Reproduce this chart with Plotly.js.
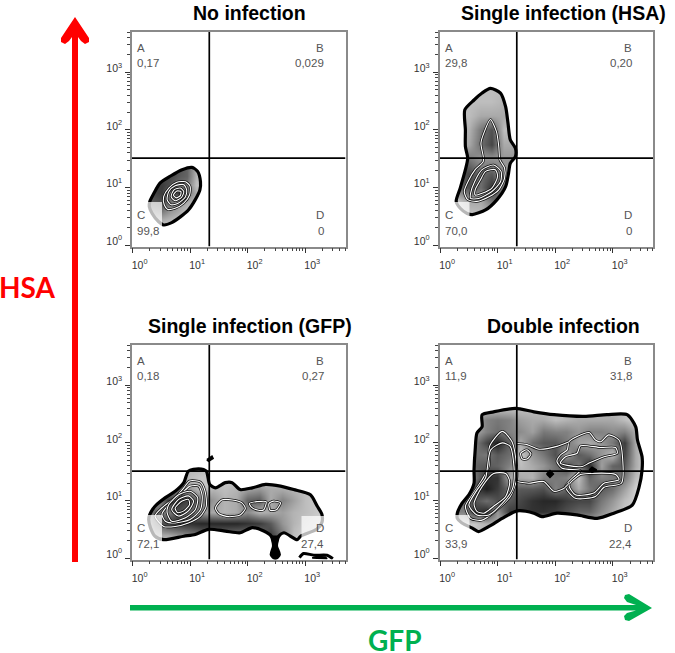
<!DOCTYPE html>
<html>
<head>
<meta charset="utf-8">
<script src="https://cdn.plot.ly/plotly-3.0.1.min.js"></script>
<style>
  body { margin: 0; background: #fff; }
</style>
</head>
<body>
<div id="myPlot" style="width:675px;height:653px"></div>
<script>
// Gates, ticks
var gateGfp = 1.333;   // log10 of the GFP gate
var gateHsa = 1.509;   // log10 of the HSA gate
var majorTicks = [1, 10, 100, 1000];
var majorLabels = ["10<sup>0</sup>", "10<sup>1</sup>", "10<sup>2</sup>", "10<sup>3</sup>"];
var minorTicks = [2,3,4,5,6,7,8,9,20,30,40,50,60,70,80,90,200,300,400,500,600,700,800,900,2000,3000,4000,5000];

var titles = ["No infection", "Single infection (HSA)", "Single infection (GFP)", "Double infection"];
var valuesA = ["0,17", "29,8", "0,18", "11,9"];
var valuesB = ["0,029", "0,20", "0,27", "31,8"];
var valuesC = ["99,8", "70,0", "72,1", "33,9"];
var valuesD = ["0", "0", "27,4", "22,4"];

// All density coordinates below are log10(GFP) and log10(HSA). Shade is 0 (black) to 255 (white).

// No infection
var p1GridX = [.2,.35,.5,.65,.8,.95,1.1,1.25];
var p1GridY = [.3,.45,.6,.75,.9,1.05,1.2,1.35];
var p1Shade = [
  [200,200,200,200,200,200,200,200],
  [180,170,170,180,190,200,210,210],
  [120,130,120,150,170,190,210,210],
  [90,90,80,110,150,170,190,210],
  [70,70,60,120,50,110,170,210],
  [60,60,60,80,110,120,190,210],
  [60,60,70,70,90,100,180,200],
  [70,70,70,70,80,100,170,200]
];
var p1OutX = [.30,.37,.48,.66,.86,1.03,1.13,1.18,1.17,1.09,.97,.83,.68,.54,.45,.34,.29];
var p1OutY = [.76,.90,1.08,1.20,1.31,1.35,1.28,1.10,.96,.79,.61,.49,.39,.35,.41,.55,.67];
var p1RingsX = [
  [.55,.54,.63,.77,.92,1.0,.99,.89,.74,.61],
  [.60,.63,.74,.89,.94,.92,.80,.67],
  [.67,.72,.83,.89,.85,.74],
  [.71,.77,.84,.83,.76]
];
var p1RingsY = [
  [.70,.84,.99,1.09,1.10,1.02,.87,.73,.64,.62],
  [.79,.93,1.03,1.05,.96,.84,.73,.70],
  [.84,.96,.99,.93,.83,.77],
  [.87,.94,.93,.86,.82]
];

// Single infection (HSA)
var p2GridX = [.3,.5,.7,.9,1.1,1.3];
var p2GridY = [.5,.75,1.0,1.25,1.5,1.75,2.0,2.25,2.5,2.75];
var p2Shade = [
  [210,200,190,190,190,190],
  [200,170,170,120,110,120],
  [110,80,110,50,130,140],
  [90,70,110,90,150,150],
  [100,120,150,150,150,150],
  [170,170,110,70,170,170],
  [170,180,120,80,190,190],
  [190,190,170,170,170,170],
  [190,190,190,190,180,180],
  [190,190,190,190,190,190]
];
var p2OutX = [.875,1.05,1.14,1.18,1.22,1.31,1.31,1.22,1.19,1.14,.99,.79,.56,.47,.35,.28,.35,.44,.48,.44,.44,.43,.59,.73];
var p2OutY = [2.72,2.64,2.40,2.12,1.83,1.68,1.54,1.42,1.25,1.02,.79,.61,.53,.55,.64,.76,.99,1.31,1.51,1.71,2.0,2.35,2.52,2.64];
var p2RingsX = [
  [.875,.98,1.02,1.04,1.12,1.12,1.02,.85,.64,.48,.42,.50,.61,.75,.75,.71,.77],
  [.53,.60,.73,.93,1.06,1.05,.90,.67,.53],
  [.61,.70,.79,.96,1.0,.90,.73,.61]
];
var p2RingsY = [
  [2.18,1.97,1.71,1.48,1.34,1.16,.96,.84,.76,.79,.93,1.13,1.31,1.45,1.54,1.77,1.97],
  [.90,1.10,1.31,1.39,1.28,1.10,.93,.81,.81],
  [.96,1.13,1.28,1.31,1.19,.99,.90,.87]
];

// Single infection (GFP)
var p3GridX = [.2,.4,.6,.8,1.0,1.2,1.4,1.6,1.8,2.0,2.2,2.4,2.6,2.8,3.0,3.2,3.4];
var p3GridY = [.2,.4,.6,.8,1.0,1.2,1.4,1.6];
var p3Shade = [
  [190,190,190,190,190,190,190,190,190,190,190,60,190,190,190,190,190],
  [200,170,170,150,130,110,110,110,120,120,120,60,120,190,210,210,210],
  [190,120,60,50,50,40,40,40,40,50,60,90,150,180,200,210,210],
  [160,90,130,80,110,150,170,180,170,140,180,170,160,180,190,200,210],
  [200,170,60,50,70,120,150,180,170,100,90,170,130,160,190,200,210],
  [200,200,170,120,150,200,180,190,180,160,150,170,170,180,190,200,210],
  [200,200,200,170,190,200,200,200,200,200,200,200,200,200,200,200,200],
  [200,200,200,180,180,180,200,200,200,200,200,200,200,200,200,200,200]
];
var p3OutX = [.30,.39,.57,.74,.89,.97,1.15,1.28,1.34,1.44,1.61,1.73,1.87,2.08,2.31,2.57,2.80,3.09,3.21,3.29,3.29,3.20,2.92,2.86,2.63,2.54,2.50,2.55,2.48,2.41,2.45,2.41,2.28,2.08,1.87,1.61,1.32,1.09,.89,.54,.39,.31,.28];
var p3OutY = [.76,.90,1.05,1.16,1.31,1.51,1.55,1.51,1.28,1.22,1.31,1.31,1.19,1.22,1.28,1.25,1.19,1.10,.90,.76,.62,.50,.38,.32,.44,.38,.21,.06,-.01,.06,.21,.38,.47,.53,.44,.47,.50,.41,.38,.32,.38,.53,.67];
var p3RingsX = [
  [.39,.54,.74,.89,.99,1.18,1.26,1.28,1.18,.97,.74,.54],
  [.51,.63,.83,1.0,1.15,1.21,1.18,1.0,.74,.57],
  [.60,.63,.80,1.0,1.13,1.09,.92,.68],
  [.68,.80,.97,1.06,.97,.80],
  [.74,.86,.97,.99,.89,.78],
  [1.44,1.55,1.73,1.90,1.96,1.87,1.67,1.50],
  [2.03,2.16,2.32,2.28,2.19,2.07],
  [2.37,2.45,2.57,2.50,2.39]
];
var p3RingsY = [
  [.73,.90,1.05,1.22,1.34,1.32,1.16,.90,.73,.61,.55,.55],
  [.76,.93,1.10,1.25,1.25,1.08,.84,.67,.61,.64],
  [.79,.93,1.10,1.16,1.05,.84,.70,.64],
  [.84,1.02,1.08,.99,.82,.73],
  [.87,.99,1.02,.93,.82,.79],
  [.87,1.01,1.01,.96,.86,.75,.72,.77],
  [.95,.98,.98,.84,.83,.88],
  [.95,.99,.96,.84,.83]
];
var p3SpotsX = [
  [2.41,2.45,2.41,2.48,2.55,2.50,2.54],
  [1.29,1.38,1.40,1.32],
  [3.12,3.20,3.35,3.38]
];
var p3SpotsY = [
  [.38,.21,.06,-.01,.06,.21,.38],
  [1.71,1.77,1.73,1.68],
  [0,.03,.02,-.01]
];
var p3LobeX = [2.90,2.97,3.15,3.38,3.48];
var p3LobeY = [.01,.08,.05,.05,-.01];

// Double infection
var p4GridX = [.4,.6,.8,1.0,1.2,1.4,1.6,1.8,2.0,2.2,2.4,2.6,2.8,3.0,3.2,3.4,3.6];
var p4GridY = [.6,.8,1.0,1.2,1.4,1.6,1.8,2.0,2.2,2.4,2.6];
var p4Shade = [
  [200,200,180,170,170,170,170,170,170,170,170,170,180,190,200,210,220],
  [130,60,40,150,60,60,50,50,60,80,100,100,140,170,200,210,220],
  [110,80,110,80,90,70,50,40,40,60,70,70,120,150,190,210,220],
  [100,70,30,60,110,90,90,80,130,100,170,120,90,110,160,210,220],
  [150,120,50,50,170,170,180,130,120,130,190,100,130,120,120,190,220],
  [190,100,90,100,130,190,170,150,110,70,120,40,160,100,90,170,220],
  [200,110,120,90,110,200,150,120,80,160,90,110,150,190,70,170,220],
  [200,130,70,30,100,170,110,90,90,120,160,170,150,120,60,170,220],
  [190,170,130,110,130,140,160,120,130,130,150,130,130,140,130,170,220],
  [190,170,130,120,130,160,170,170,190,180,170,170,170,170,190,210,220],
  [200,190,190,190,190,190,190,190,190,190,190,190,190,190,190,210,220]
];
var p4OutX = [.30,.38,.50,.59,.59,.61,.64,.73,.73,.93,1.31,1.63,1.98,2.50,2.90,3.25,3.40,3.43,3.51,3.51,3.46,3.34,3.02,2.73,2.38,2.03,1.77,1.63,1.34,1.08,.85,.67,.56,.38,.30];
var p4OutY = [.78,.95,1.10,1.30,1.53,1.88,2.17,2.28,2.49,2.54,2.60,2.54,2.49,2.46,2.49,2.49,2.28,2.05,1.76,1.53,1.24,.92,.78,.69,.75,.78,.72,.78,.82,.69,.55,.46,.52,.61,.69];
var p4RingsX = [
  [.44,.56,.73,.85,.86,1.08,1.25,1.33,1.33,1.22,.99,.73,.53],
  [.50,.64,.79,.88,1.08,1.22,1.29,1.25,1.08,.85,.64],
  [.59,.73,.93,1.14,1.21,1.14,.93,.76,.64],
  [1.40,1.51,1.58,1.51,1.43],
  [2.03,2.09,2.21,2.24,2.38,2.59,2.70,2.79,2.93,3.11,3.17,3.15,2.85,2.70,2.35,2.18,2.38,2.44,2.12],
  [2.09,2.18,2.38,2.44,2.79,3.05,3.08,2.85,2.59,2.47,2.21],
  [2.24,2.44,2.59,3.05,3.11,2.85,2.67,2.35]
];
var p4RingsY = [
  [.90,1.10,1.36,1.59,1.94,2.20,2.02,1.59,1.36,1.07,.84,.66,.69],
  [.92,1.18,1.39,1.88,2.0,1.94,1.47,1.18,.95,.75,.75],
  [.95,1.24,1.47,1.47,1.33,1.07,.90,.78,.81],
  [1.82,1.88,1.81,1.72,1.72],
  [1.68,1.79,1.88,2.02,2.11,2.18,2.05,2.02,2.14,2.05,1.76,1.30,1.23,1.07,1.04,1.24,1.46,1.52,1.56],
  [1.65,1.76,1.82,1.95,1.92,1.92,1.82,1.76,1.65,1.59,1.61],
  [1.27,1.45,1.47,1.45,1.36,1.30,1.13,1.10]
];
var p4NecksX = [[1.33,1.51,1.72,2.03,2.24], [1.33,1.54,1.80,1.98,2.15,2.24]];
var p4NecksY = [[1.99,1.97,1.89,1.94,2.02], [1.33,1.30,1.33,1.16,1.21,1.30]];
var p4SpotsX = [[1.85,1.91,1.97,1.91], [2.59,2.64,2.72,2.64]];
var p4SpotsY = [[1.46,1.52,1.46,1.40], [1.53,1.58,1.53,1.49]];

// Panel frames on the page, px
var W = 675, H = 653;
var frameLeft = [132, 439.5, 132, 439.5];
var frameTop = [32, 32, 345, 345];
var frameW = 213.5, frameH = 214.5;
var rangeX = [-0.01, 3.70];
var rangeY = [-0.024, 3.70];

function pow(a){
  return a.map(function(v){ return Math.pow(10, v); });
}
function closed(a){
  return a.concat([a[0]]);
}
function px(x){ return x / W; }
function py(y){ return 1 - y / H; }

var data = [];

function addLine(k, xs, ys, color, width){
  data.push({x: pow(xs), y: pow(ys), xaxis: "x" + k, yaxis: "y" + k, mode: "lines", hoverinfo: "skip",
    line: {color: color, width: width, shape: "spline", smoothing: 0.7}});
}
function addSpot(k, xs, ys, color){
  data.push({x: pow(closed(xs)), y: pow(closed(ys)), xaxis: "x" + k, yaxis: "y" + k, mode: "lines", hoverinfo: "skip",
    fill: "toself", fillcolor: color, line: {color: "#000", width: 1.5}});
}
function addPanel(k, gx, gy, shade, outX, outY, ringsX, ringsY){
  data.push({type: "heatmap", x: pow(gx), y: pow(gy), z: shade, xaxis: "x" + k, yaxis: "y" + k,
    colorscale: [[0, "#000"], [1, "#fff"]], zmin: 0, zmax: 255, zsmooth: "best", showscale: false, hoverinfo: "skip"});
  // white keyhole around the outline hides the shading outside of it
  var l = rangeX[0], r = rangeX[1], b = rangeY[0], t = rangeY[1];
  var mx = [l, r, r, l, l].concat(closed(outX), [l]);
  var my = [b, b, t, t, b].concat(closed(outY), [b]);
  data.push({x: pow(mx), y: pow(my), xaxis: "x" + k, yaxis: "y" + k, mode: "lines", hoverinfo: "skip",
    fill: "toself", fillcolor: "#fff", line: {width: 0}});
  addLine(k, closed(outX), closed(outY), "#000", 3.2);
  for (var i = 0; i < ringsX.length; i++){
    addLine(k, closed(ringsX[i]), closed(ringsY[i]), "#111", 2.6);
    addLine(k, closed(ringsX[i]), closed(ringsY[i]), "#fff", 1.1);
  }
}

addPanel(1, p1GridX, p1GridY, p1Shade, p1OutX, p1OutY, p1RingsX, p1RingsY);
addPanel(2, p2GridX, p2GridY, p2Shade, p2OutX, p2OutY, p2RingsX, p2RingsY);
addPanel(3, p3GridX, p3GridY, p3Shade, p3OutX, p3OutY, p3RingsX, p3RingsY);
addLine(3, p3LobeX, p3LobeY, "#000", 3);
for (var s = 0; s < p3SpotsX.length; s++) addSpot(3, p3SpotsX[s], p3SpotsY[s], "#000");
addPanel(4, p4GridX, p4GridY, p4Shade, p4OutX, p4OutY, p4RingsX, p4RingsY);
for (var n = 0; n < p4NecksX.length; n++){
  addLine(4, p4NecksX[n], p4NecksY[n], "#111", 2.6);
  addLine(4, p4NecksX[n], p4NecksY[n], "#fff", 1.1);
}
for (s = 0; s < p4SpotsX.length; s++) addSpot(4, p4SpotsX[s], p4SpotsY[s], "#000");

// quadrant gates
for (var k = 1; k <= 4; k++){
  data.push({x: pow([gateGfp, gateGfp]), y: pow(rangeY), xaxis: "x" + k, yaxis: "y" + k, mode: "lines",
    hoverinfo: "skip", line: {color: "#000", width: 1.7}});
  data.push({x: pow(rangeX), y: pow([gateHsa, gateHsa]), xaxis: "x" + k, yaxis: "y" + k, mode: "lines",
    hoverinfo: "skip", line: {color: "#000", width: 1.7}});
}

var layout = {
  width: W, height: H, showlegend: false, paper_bgcolor: "#fff", plot_bgcolor: "#fff",
  margin: {l: 0, r: 0, t: 0, b: 0},
  annotations: [], shapes: []
};

function label(x, y, text, anchor, size, color, bold, family){
  layout.annotations.push({xref: "paper", yref: "paper", x: px(x), y: py(y), text: bold ? "<b>" + text + "</b>" : text,
    showarrow: false, xanchor: anchor, yanchor: "middle",
    font: {size: size, color: color, family: family || "Liberation Sans, Arial, sans-serif"}});
}
function labelBox(x0, y0, x1, y1){
  layout.shapes.push({type: "rect", xref: "paper", yref: "paper", layer: "above",
    x0: px(x0), x1: px(x1), y0: py(y0), y1: py(y1), fillcolor: "rgba(255,255,255,0.72)", line: {width: 0}});
}

for (k = 1; k <= 4; k++){
  var idx = k - 1, fx = frameLeft[idx], fy = frameTop[idx];
  var axisStyle = {
    type: "log", showgrid: false, zeroline: false, showline: true, mirror: true,
    linecolor: "#8a8a8a", linewidth: 1.5, ticks: "outside", ticklen: 5, tickwidth: 1.3, tickcolor: "#333",
    tickmode: "array", tickvals: majorTicks, ticktext: majorLabels,
    tickfont: {size: 10.5, color: "#333", family: "Liberation Sans, Arial, sans-serif"},
    minor: {tickmode: "array", tickvals: minorTicks, ticks: "outside", ticklen: 3, tickwidth: 1, tickcolor: "#444"}
  };
  layout["xaxis" + k] = Object.assign({}, axisStyle, {
    anchor: "y" + k, range: rangeX, domain: [px(fx), px(fx + frameW)], ticklabelstandoff: 3, ticklabelshift: 7
  });
  layout["yaxis" + k] = Object.assign({}, axisStyle, {
    anchor: "x" + k, range: rangeY, domain: [py(fy + frameH), py(fy)], ticklabelstandoff: 1, ticklabelshift: -4
  });
  label(k % 2 ? fx + 117.5 : fx + 123.5, fy - 19, titles[idx], "center", 19.5, "#000", true);
  label(fx + 3, fy + 16, "A", "left", 11.5, "#555");
  label(fx + 3, fy + 31, valuesA[idx], "left", 11.5, "#555");
  label(fx + 194, fy + 16, "B", "right", 11.5, "#555");
  label(fx + 194, fy + 31, valuesB[idx], "right", 11.5, "#555");
  label(fx + 3, fy + 183, "C", "left", 11.5, "#555");
  label(fx + 3, fy + 199, valuesC[idx], "left", 11.5, "#555");
  label(fx + 194, fy + 183, "D", "right", 11.5, "#555");
  label(fx + 194, fy + 199, valuesD[idx], "right", 11.5, "#555");
  labelBox(fx + 1, fy + 170, fx + 30, fy + 207);
}
labelBox(301.5, 516, 326, 541);

// big axis arrows
function arrow(path, color){
  layout.shapes.push({type: "path", xref: "paper", yref: "paper", layer: "above", path: path, fillcolor: color, line: {width: 0}});
}
function pathOf(pts){
  return "M " + pts.map(function(p){ return px(p[0]) + " " + py(p[1]); }).join(" L ") + " Z";
}
arrow(pathOf([[75,17],[89,38],[89,42],[85,44],[81,41],[78,37],[78,562],[72,562],[72,37],[69,41],[65,44],[61,42],[61,38]]), "#ff0000");
arrow(pathOf([[652,608],[629,621],[625,620],[624,616],[627,613],[636,610.5],[130,610.5],[130,605],[636,605],[627,602],[624,598],[625,595],[629,594]]), "#00b050");
label(27, 287, "HSA", "center", 28, "#ff0000", true, "Lato, Liberation Sans, sans-serif");
label(395, 640, "GFP", "center", 28, "#00b050", true, "Lato, Liberation Sans, sans-serif");

Plotly.newPlot("myPlot", data, layout, {displayModeBar: false});
</script>
</body>
</html>
